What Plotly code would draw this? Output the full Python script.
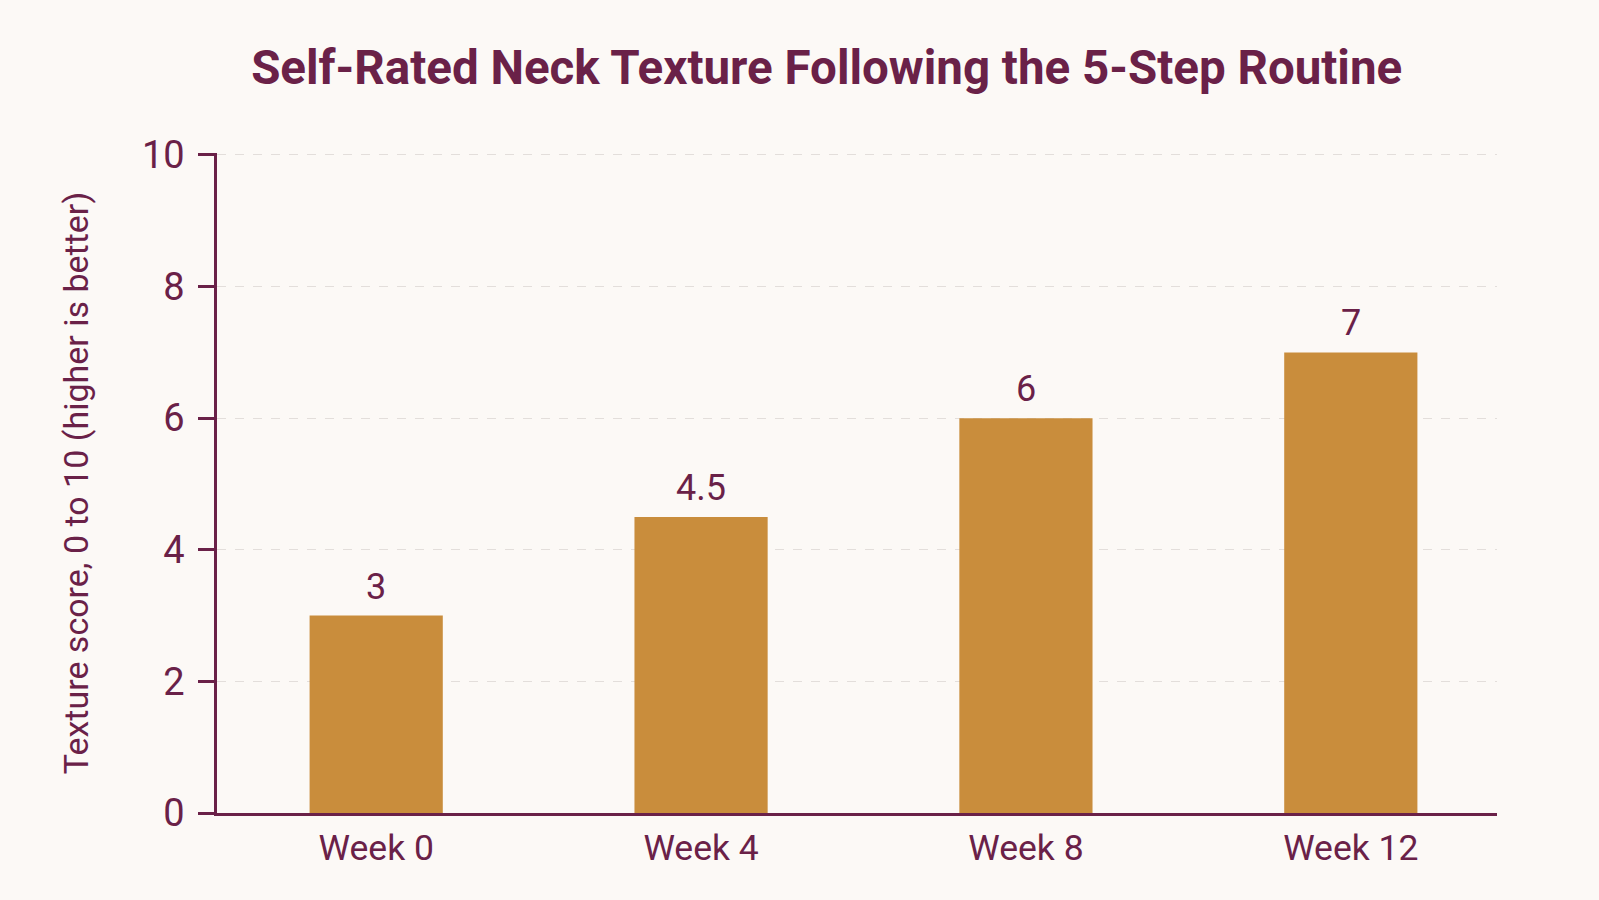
import plotly.graph_objects as go

# self-rated texture score by week
weeks = ["Week 0", "Week 4", "Week 8", "Week 12"]
scores = [3, 4.5, 6, 7]
score_labels = ["3", "4.5", "6", "7"]
y_ticks = [0, 2, 4, 6, 8, 10]

plum = "#6a2148"
gold = "#c98d3c"
bg = "#fcf9f6"

fig = go.Figure()
fig.add_trace(go.Bar(
    x=weeks, y=scores,
    marker=dict(color=gold, line=dict(width=0)),
    width=0.41,
))

# value labels above the bars
for w, s, lab in zip(weeks, scores, score_labels):
    fig.add_annotation(x=w, y=s, text=lab, showarrow=False,
                       yanchor="bottom", yshift=6,
                       font=dict(size=36, color=plum, family="Roboto"))

fig.update_layout(
    width=1599, height=900,
    paper_bgcolor=bg, plot_bgcolor=bg,
    margin=dict(l=217, r=102, t=153, b=87),
    font=dict(family="Roboto", color=plum),
    title=dict(
        text="<b>Self-Rated Neck Texture Following the 5-Step Routine</b>",
        x=0.517, xanchor="center", y=0.925, yanchor="middle",
        font=dict(size=47.5, color=plum, family="Roboto"),
    ),
    showlegend=False,
)
fig.update_xaxes(
    range=[-0.49, 3.45],
    showline=True, linecolor=plum, linewidth=2.5,
    ticks="", tickfont=dict(size=35.5, color=plum),
    ticklabelstandoff=2,
    showgrid=False,
)
fig.update_yaxes(
    range=[0, 10.03], tickvals=y_ticks,
    showline=True, linecolor=plum, linewidth=2.5,
    ticks="outside", ticklen=16, tickwidth=2.5, tickcolor=plum,
    tickfont=dict(size=38, color=plum),
    ticklabelstandoff=6,
    showgrid=True, gridcolor="#e3dedb", gridwidth=1.2, griddash="dash",
    zeroline=False,
    title=dict(text="Texture score, 0 to 10 (higher is better)",
               font=dict(size=34, color=plum), standoff=44),
)

fig.write_html("out.html", config={"displayModeBar": False},
               post_script="document.body.style.margin='0';")
